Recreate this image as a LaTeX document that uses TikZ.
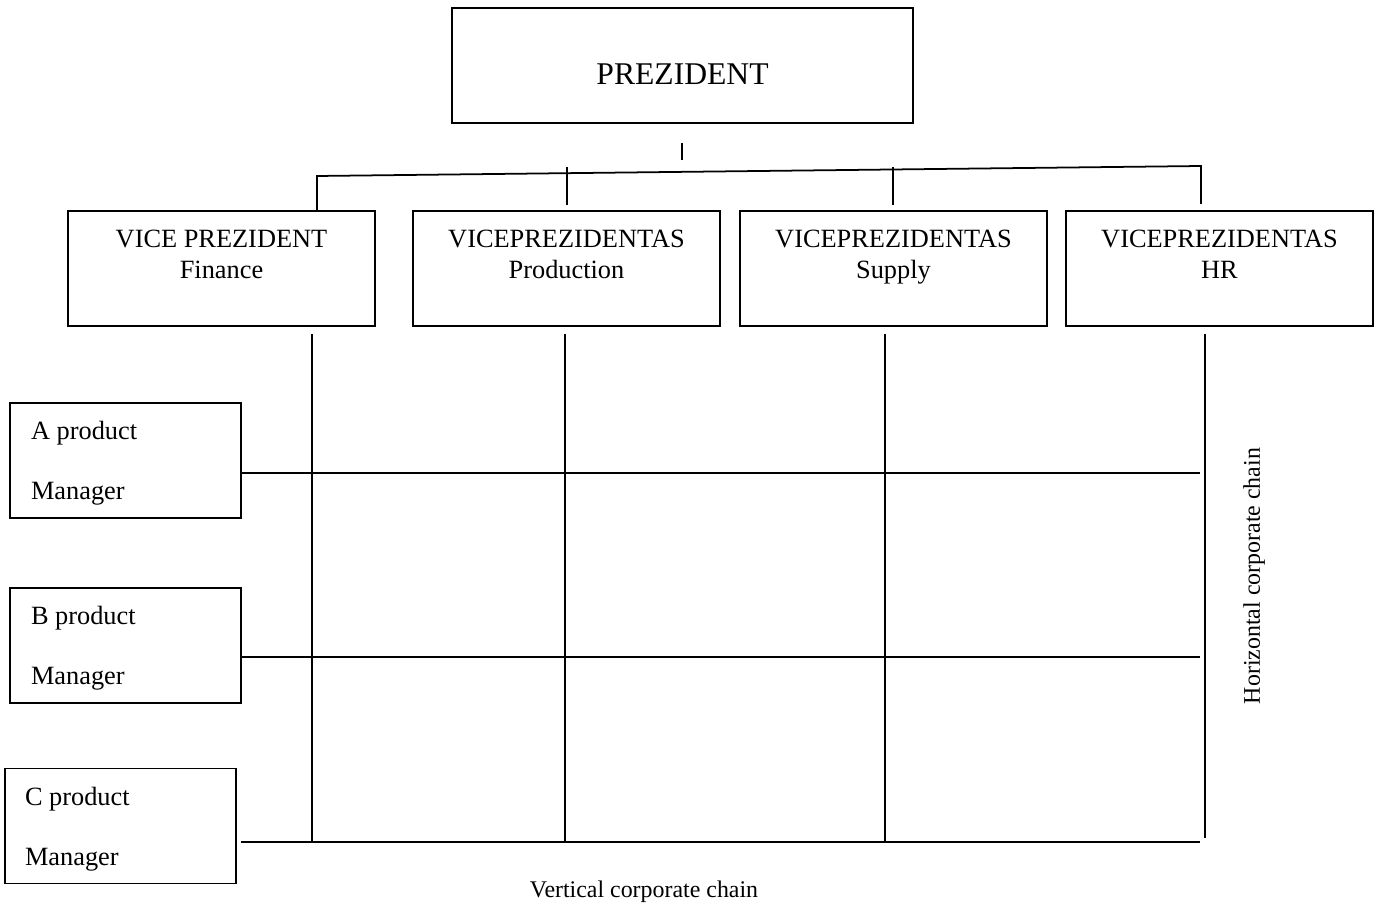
\documentclass[tikz,border=0pt]{standalone}
\usepackage{fontspec}
\setmainfont{Liberation Serif}
\usetikzlibrary{positioning}
\begin{document}
\begin{tikzpicture}[x=0.02cm,y=-0.02cm,line width=1pt]
    \tikzstyle{box}=[draw,rectangle,inner sep=0pt,minimum height=2.3cm]
    \tikzstyle{top box}=[box,minimum width=9.22cm]
    \tikzstyle{top text}=[inner sep=0pt,font=\fontsize{18}{22}\selectfont]
    \tikzstyle{vp box}=[box,minimum width=6.14cm]
    \tikzstyle{pm box}=[box,minimum width=4.62cm]
    \tikzstyle{vp text}=[inner sep=0pt,align=center,font=\fontsize{15}{17.6}\selectfont]
    \tikzstyle{pm text}=[inner sep=0pt,align=left,font=\fontsize{15}{34}\selectfont]
    \tikzstyle{chain}=[inner sep=0pt,font=\fontsize{13.6}{16}\selectfont]
    \useasboundingbox (0,0) rectangle (1379,905);
    % President and vice presidents
      \node[top box] (pres) at (682.5,65.5) {};
      \node[top text] (prest) at ([yshift=-0.18cm]pres.center) {PREZIDENT};
      \node[vp box] (fin) at (221.5,268.5) {};
      \node[vp box] (prod) at (566.5,268.5) {};
      \node[vp box] (sup) at (893.5,268.5) {};
      \node[vp box] (hr) at (1219.5,268.5) {};
      \node[vp text, below=0.38cm of fin.north] (fint) {VICE PREZIDENT\\Finance};
      \node[vp text, below=0.38cm of prod.north] (prodt) {VICEPREZIDENTAS\\Production};
      \node[vp text, below=0.38cm of sup.north] (supt) {VICEPREZIDENTAS\\Supply};
      \node[vp text, below=0.38cm of hr.north] (hrt) {VICEPREZIDENTAS\\HR};
    % Product managers
      \node[pm box] (pa) at (125.5,460.5) {};
      \node[pm box] (pb) at (125.5,645.5) {};
      \node[pm box] (pc) at (120.5,826) {};
      \node[pm text, below right=0.37cm and 0.42cm of pa.north west] (pat) {A product\\Manager};
      \node[pm text, below right=0.37cm and 0.42cm of pb.north west] (pbt) {B product\\Manager};
      \node[pm text, below right=0.37cm and 0.40cm of pc.north west] (pct) {C product\\Manager};
    % Chain labels
      \node[chain, rotate=90] (hchain) at (1254,576) {Horizontal corporate chain};
      \node[chain] (vchain) at (644,892) {Vertical corporate chain};
    % Top connectors
      \coordinate (bl) at (317,176);
      \coordinate (br) at (1201,166);
      \coordinate (tick) at (682,143);
      \coordinate (prodtop) at (567,167);
      \coordinate (suptop) at (893,167);
      \draw (tick) -- ++(0,17);
      \draw (fin.north -| bl) -- (bl) -- (br) -- ++(0,38);
      \draw (prodtop) -- ++(0,38);
      \draw (suptop) -- ++(0,38);
    % Matrix lines
      \foreach \x in {312,565,885}
        \draw (\x,334) -- (\x,842);
      \draw (1205,334) -- (1205,838);
      \draw (pa.east |- 0,473) -- (1200,473);
      \draw (pb.east |- 0,657) -- (1200,657);
      \draw (241,842) -- (1200,842);
\end{tikzpicture}
\end{document}
